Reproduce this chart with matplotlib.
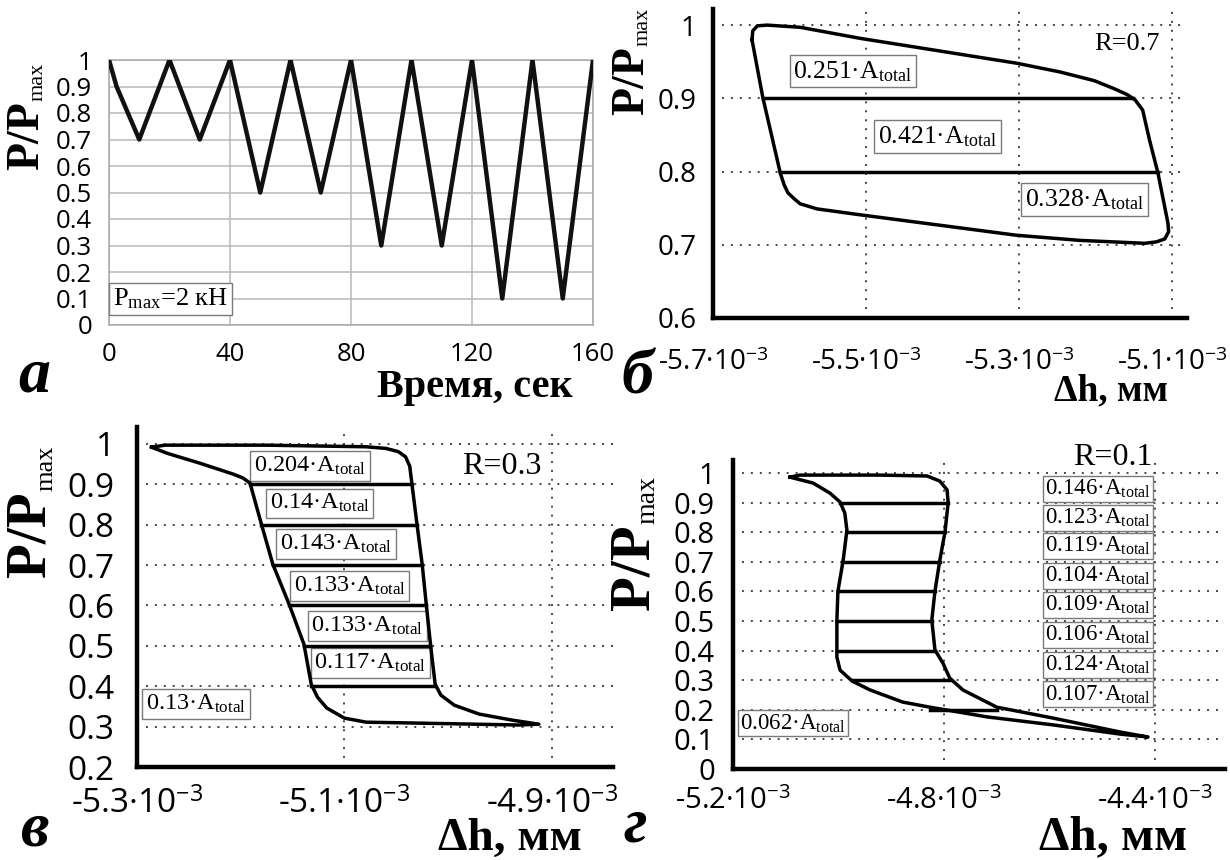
import matplotlib
matplotlib.use('Agg')
import matplotlib.pyplot as plt

W, H = 1230, 860
SANS = 'Open Sans'
SERIF = 'Liberation Serif'

plt.rcParams['mathtext.fontset'] = 'custom'
plt.rcParams['mathtext.rm'] = SERIF
plt.rcParams['mathtext.it'] = SERIF + ':italic'
plt.rcParams['mathtext.bf'] = SERIF + ':bold'
plt.rcParams['mathtext.sf'] = SANS

#### Data

# (а) loading programme, P/Pmax vs time
t_sec = [0, 2.5, 10, 20, 30, 40, 50, 60, 70, 80, 90, 100, 110, 120, 130, 140, 150, 160]
p_prog = [1, 0.9, 0.7, 1, 0.7, 1, 0.5, 1, 0.5, 1, 0.3, 1, 0.3, 1, 0.1, 1, 0.1, 1]

# (б) hysteresis loop, R=0.7 (dh in 1e-3 mm)
dh_07 = [-5.649, -5.648, -5.642, -5.629, -5.586, -5.508, -5.303, -5.246, -5.201,
         -5.175, -5.158, -5.148, -5.138, -5.129, -5.118, -5.105, -5.104, -5.109,
         -5.120, -5.135, -5.220, -5.303, -5.508, -5.564, -5.586, -5.594, -5.602,
         -5.607, -5.612, -5.635, -5.649]
p_07 = [0.980, 0.992, 0.999, 1.000, 0.997, 0.982, 0.948, 0.936, 0.924,
        0.913, 0.905, 0.898, 0.884, 0.843, 0.798, 0.730, 0.718, 0.708,
        0.704, 0.702, 0.706, 0.713, 0.741, 0.749, 0.756, 0.763, 0.771,
        0.782, 0.798, 0.902, 0.980]
lev_07 = [0.9, 0.8]
lev_left_07 = [-5.635, -5.612]
lev_right_07 = [-5.150, -5.118]
area_07 = [0.251, 0.421, 0.328]

# (в) hysteresis loop, R=0.3
dh_03 = [-5.286, -5.273, -5.175, -5.079, -5.060, -5.048, -5.041, -5.037, -5.035,
         -5.030, -5.025, -5.021, -5.017, -5.0125, -5.007, -4.994, -4.970, -4.938,
         -4.9125, -4.932, -5.035, -5.079, -5.100, -5.117, -5.126, -5.132, -5.139,
         -5.153, -5.169, -5.180, -5.191, -5.198, -5.208, -5.239, -5.271, -5.286]
p_03 = [0.992, 0.997, 0.997, 0.993, 0.989, 0.981, 0.968, 0.945, 0.903,
        0.801, 0.702, 0.601, 0.504, 0.405, 0.378, 0.353, 0.331, 0.316,
        0.306, 0.304, 0.309, 0.311, 0.321, 0.346, 0.373, 0.405, 0.504,
        0.601, 0.702, 0.801, 0.903, 0.916, 0.926, 0.952, 0.977, 0.992]
lev_03 = [0.9, 0.8, 0.7, 0.6, 0.5, 0.4]
lev_left_03 = [-5.191, -5.180, -5.169, -5.153, -5.139, -5.132]
lev_right_03 = [-5.035, -5.030, -5.025, -5.021, -5.017, -5.0125]
area_03 = [0.204, 0.14, 0.143, 0.133, 0.133, 0.117, 0.13]

# (г) hysteresis loop, R=0.1
dh_01 = [-5.092, -5.073, -4.921, -4.832, -4.808, -4.794, -4.792, -4.798, -4.808,
         -4.817, -4.823, -4.817, -4.802, -4.789, -4.764, -4.700, -4.593, -4.466,
         -4.413, -4.466, -4.593, -4.718, -4.827, -4.878, -4.940, -4.974, -4.997,
         -5.003, -5.003, -5.003, -5.001, -4.991, -4.984, -4.988, -4.997, -5.016,
         -5.048, -5.092]
p_01 = [0.986, 0.993, 0.993, 0.990, 0.973, 0.943, 0.899, 0.801, 0.703,
        0.601, 0.503, 0.402, 0.358, 0.307, 0.267, 0.209, 0.172, 0.125,
        0.108, 0.118, 0.149, 0.176, 0.209, 0.226, 0.267, 0.297, 0.334,
        0.378, 0.402, 0.503, 0.601, 0.706, 0.807, 0.865, 0.902, 0.932,
        0.966, 0.986]
lev_01 = [0.9, 0.8, 0.7, 0.6, 0.5, 0.4, 0.3, 0.2]
lev_left_01 = [-4.997, -4.984, -4.993, -5.001, -5.003, -5.003, -4.974, -4.827]
lev_right_01 = [-4.792, -4.798, -4.808, -4.817, -4.823, -4.817, -4.789, -4.700]
area_01 = [0.146, 0.123, 0.119, 0.104, 0.109, 0.106, 0.124, 0.107, 0.062]

# where the area labels sit (data coords)
pos_07 = [(-5.517, 0.937), (-5.4065, 0.848), (-5.214, 0.762)]
pos_03 = [(-5.133, 0.945), (-5.124, 0.853), (-5.108, 0.752), (-5.095, 0.648),
          (-5.078, 0.549), (-5.075, 0.457), (-5.243, 0.356)]
pos_01 = [(-4.508, 0.947), (-4.508, 0.849), (-4.508, 0.753), (-4.508, 0.653),
          (-4.508, 0.554), (-4.508, 0.453), (-4.508, 0.353), (-4.508, 0.252),
          (-5.086, 0.154)]


#### Helpers

def fx(x):
    return x / W


def fy(y):
    return 1 - y / H


def px_axes(fig, x0, y0, x1, y1):
    return fig.add_axes([fx(x0), fy(y1), (x1 - x0) / W, (y1 - y0) / H])


def p_label(fig, ax, x, y, size, subsize):
    t = fig.text(fx(x), fy(y), 'P/P', rotation=90, ha='center', va='bottom',
                 fontsize=size, fontweight='bold', family=SERIF)
    ax.annotate('max', xy=(1, 1), xycoords=t, rotation=90, ha='right',
                va='bottom', fontsize=subsize, family=SERIF,
                annotation_clip=False)


def fig_label(fig, x, y, s, size, **kw):
    fig.text(fx(x), fy(y), s, ha='center', va='baseline', fontsize=size,
             family=SERIF, **kw)


def exp_label(v):
    return '%.1f·10' % v + r'$^{\mathsf{-3}}$'


def loop_axes(fig, rect, xlim, ylim, xticks, yticks, ylabels, size, ypad, xpad):
    ax = px_axes(fig, *rect)
    ax.set_xlim(xlim)
    ax.set_ylim(ylim)
    for s in ('top', 'right'):
        ax.spines[s].set_visible(False)
    for s in ('left', 'bottom'):
        ax.spines[s].set_linewidth(3.2)
        ax.spines[s].set_color('black')
        ax.spines[s].set_zorder(6)
    ax.set_xticks(xticks)
    ax.set_xticklabels([exp_label(v) for v in xticks])
    ax.set_yticks(yticks)
    ax.set_yticklabels(ylabels)
    ax.tick_params(axis='both', length=0, labelsize=size, labelfontfamily=SANS)
    ax.tick_params(axis='y', pad=ypad)
    ax.tick_params(axis='x', pad=xpad)
    ax.grid(True, color='#444444', ls=(0, (1, 3.6)), lw=1.4)
    ax.set_axisbelow(True)
    return ax


def area_boxes(ax, values, positions, size, pad):
    for v, (x, y) in zip(values, positions):
        ax.text(x, y, '%s·A' % v + r'$_{\mathrm{total}}$', ha='center',
                va='center', fontsize=size, family=SERIF, zorder=3,
                bbox=dict(boxstyle='square,pad=%.2f' % pad, fc='white',
                          ec='#7a7a7a', lw=1.0))


def draw_loop(ax, dh, p, lev, left, right):
    ax.plot(dh, p, color='black', lw=2.5, zorder=4, solid_joinstyle='round')
    for y, x0, x1 in zip(lev, left, right):
        ax.plot([x0, x1], [y, y], color='black', lw=2.5, zorder=4)


#### Figure

fig = plt.figure(figsize=(W / 100, H / 100), dpi=100)

# (а) loading programme
ax = px_axes(fig, 109, 60, 593, 325)
ax.plot(t_sec, p_prog, color='#111111', lw=3.2, zorder=3)
ax.set_xlim(0, 160)
ax.set_ylim(0, 1)
ax.set_xticks([0, 40, 80, 120, 160])
ax.set_yticks([i / 10 for i in range(11)])
ax.set_yticklabels(['0'] + ['%.1f' % (i / 10) for i in range(1, 10)] + ['1'])
ax.tick_params(axis='both', length=0, labelsize=18.5, labelfontfamily=SANS)
ax.tick_params(axis='y', pad=12)
ax.tick_params(axis='x', pad=12)
ax.grid(True, color='#b8b8b8', lw=1.1)
ax.set_axisbelow(True)
for s in ax.spines.values():
    s.set_color('#a8a8a8')
    s.set_linewidth(1.1)
ax.text(20.2, 0.098, r'P$_{\mathrm{max}}$=2 кН', ha='center', va='center',
        fontsize=19, family=SERIF, zorder=4,
        bbox=dict(boxstyle='square,pad=0.15', fc='white', ec='#7a7a7a', lw=1.0))
p_label(fig, ax, 27, 170, 33, 16)
fig_label(fig, 475, 397, 'Время, сек', 29, fontweight='bold')
fig_label(fig, 34, 392, 'а', 46, fontweight='bold', style='italic')

# (б) R=0.7
ax = loop_axes(fig, (713, 9, 1187, 318), (-5.7, -5.08), (0.6, 1.022),
               [-5.7, -5.5, -5.3, -5.1], [0.6, 0.7, 0.8, 0.9, 1.0],
               ['0.6', '0.7', '0.8', '0.9', '1'], 20, 12, 22)
draw_loop(ax, dh_07, p_07, lev_07, lev_left_07, lev_right_07)
area_boxes(ax, area_07, pos_07, 18.5, 0.15)
ax.text(-5.116, 0.974, 'R=0.7', ha='right', va='center', fontsize=19,
        family=SERIF)
p_label(fig, ax, 632, 115, 33, 16)
fig_label(fig, 1111, 400, 'Δh, мм', 27, fontweight='bold')
fig_label(fig, 637, 393, 'б', 46, fontweight='bold', style='italic')

# (в) R=0.3
ax = loop_axes(fig, (137, 427, 613, 767), (-5.3, -4.841), (0.2, 1.042),
               [-5.3, -5.1, -4.9], [0.2, 0.3, 0.4, 0.5, 0.6, 0.7, 0.8, 0.9, 1.0],
               ['0.2', '0.3', '0.4', '0.5', '0.6', '0.7', '0.8', '0.9', '1'],
               24, 16, 15)
draw_loop(ax, dh_03, p_03, lev_03, lev_left_03, lev_right_03)
area_boxes(ax, area_03, pos_03, 17.5, 0.15)
ax.text(-4.910, 0.945, 'R=0.3', ha='right', va='center', fontsize=23,
        family=SERIF)
p_label(fig, ax, 31, 577, 41, 19)
fig_label(fig, 510, 850, 'Δh, мм', 34, fontweight='bold')
fig_label(fig, 35, 845, 'в', 46, fontweight='bold', style='italic')

# (г) R=0.1
ax = loop_axes(fig, (733, 460, 1225, 769), (-5.2, -4.267), (0, 1.044),
               [-5.2, -4.8, -4.4], [i / 10 for i in range(11)],
               ['0'] + ['%.1f' % (i / 10) for i in range(1, 10)] + ['1'],
               21, 13, 13)
draw_loop(ax, dh_01, p_01, lev_01, lev_left_01, lev_right_01)
area_boxes(ax, area_01, pos_01, 16.5, 0.08)
ax.text(-4.404, 1.051, 'R=0.1', ha='right', va='center', fontsize=23,
        family=SERIF, clip_on=False)
p_label(fig, ax, 634, 610, 41, 20)
fig_label(fig, 1113, 849, 'Δh, мм', 35, fontweight='bold')
fig_label(fig, 635, 842, 'г', 46, fontweight='bold', style='italic')

fig.savefig('out.png', dpi=100)
